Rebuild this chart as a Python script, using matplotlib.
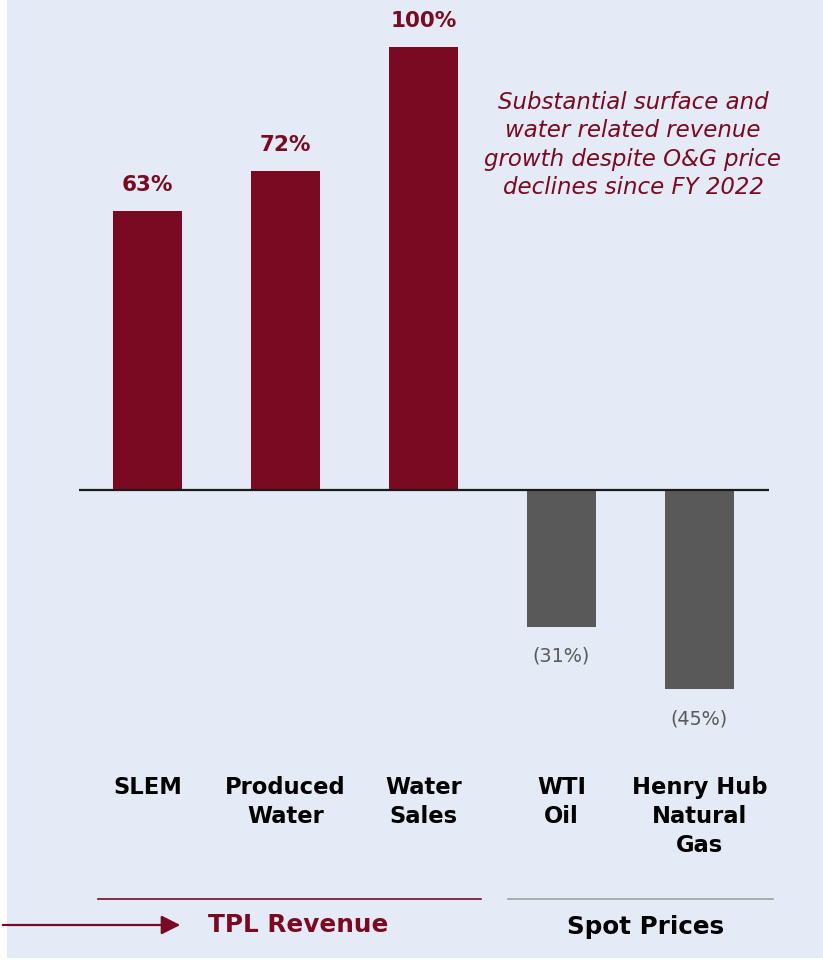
import matplotlib.pyplot as plt
from matplotlib.patches import Rectangle, FancyArrowPatch
from matplotlib.lines import Line2D

categories = ['SLEM', 'Produced\nWater', 'Water\nSales', 'WTI\nOil', 'Henry Hub\nNatural\nGas']
changes = [63, 72, 100, -31, -45]
groups = ['TPL', 'TPL', 'TPL', 'Spot', 'Spot']
note = 'Substantial surface and\nwater related revenue\ngrowth despite O&G price\ndeclines since FY 2022'

maroon = '#7A0A22'
grey_bar = '#595959'
bg = '#E4EBF6'

W, H = 823, 961
fig = plt.figure(figsize=(W / 100, H / 100), dpi=100, facecolor='white')
plt.rcParams['font.family'] = ['DejaVu Sans']


def fx(x):
    return x / W


def fy(y):
    return 1 - y / H


# panel background
fig.add_artist(Rectangle((fx(7), fy(958)), fx(W) - fx(7), fy(0) - fy(958),
                         transform=fig.transFigure, facecolor=bg, edgecolor='none', zorder=0))

ax = fig.add_axes([fx(78.5), fy(755.8), fx(690), 753.1 / H])
ax.set_facecolor('none')
ax.set_xlim(-0.5, 4.5)
ax.set_ylim(-60, 110)
for s in ax.spines.values():
    s.set_visible(False)
ax.set_xticks([])
ax.set_yticks([])

x = list(range(len(categories)))
colors = [maroon if g == 'TPL' else grey_bar for g in groups]
ax.bar(x, changes, width=0.5, color=colors, zorder=2)
ax.axhline(0, color='#1a1a1a', lw=1.6, zorder=3)

for xi, v in zip(x, changes):
    if v >= 0:
        ax.annotate(f'{v}%', (xi, v), xytext=(0, 18.5), textcoords='offset points',
                    ha='center', va='center', fontsize=15.5, fontweight='bold', color=maroon)
    else:
        ax.annotate(f'({abs(v)}%)', (xi, v), xytext=(0, -21), textcoords='offset points',
                    ha='center', va='center', fontsize=13.8, color=grey_bar)

for xi, c in zip(x, categories):
    xd = ax.transData.transform((xi, 0))[0]
    fig.text(xd / W, fy(776), c, ha='center', va='top', fontsize=16.3, fontweight='bold',
             color='black', linespacing=1.34)

ax.text(fx(633), fy(145), note, transform=fig.transFigure, ha='center', va='center',
        fontsize=16.5, style='italic', color=maroon, linespacing=1.31)

# group separators and labels
fig.add_artist(Line2D([fx(98), fx(481)], [fy(899), fy(899)], color=maroon, lw=1.2))
fig.add_artist(Line2D([fx(508), fx(773)], [fy(899), fy(899)], color='#A0A0A0', lw=1.2))
fig.text(fx(298), fy(925), 'TPL Revenue', ha='center', va='center', fontsize=17.8,
         fontweight='bold', color=maroon)
fig.text(fx(646), fy(927), 'Spot Prices', ha='center', va='center', fontsize=17.7,
         fontweight='bold', color='black')
fig.add_artist(FancyArrowPatch((fx(0), fy(925)), (fx(183), fy(925)), transform=fig.transFigure,
                               arrowstyle='-|>,head_length=11.5,head_width=5.8', color=maroon,
                               lw=1.6, mutation_scale=1))

fig.savefig('out.png', dpi=100, facecolor='white')
